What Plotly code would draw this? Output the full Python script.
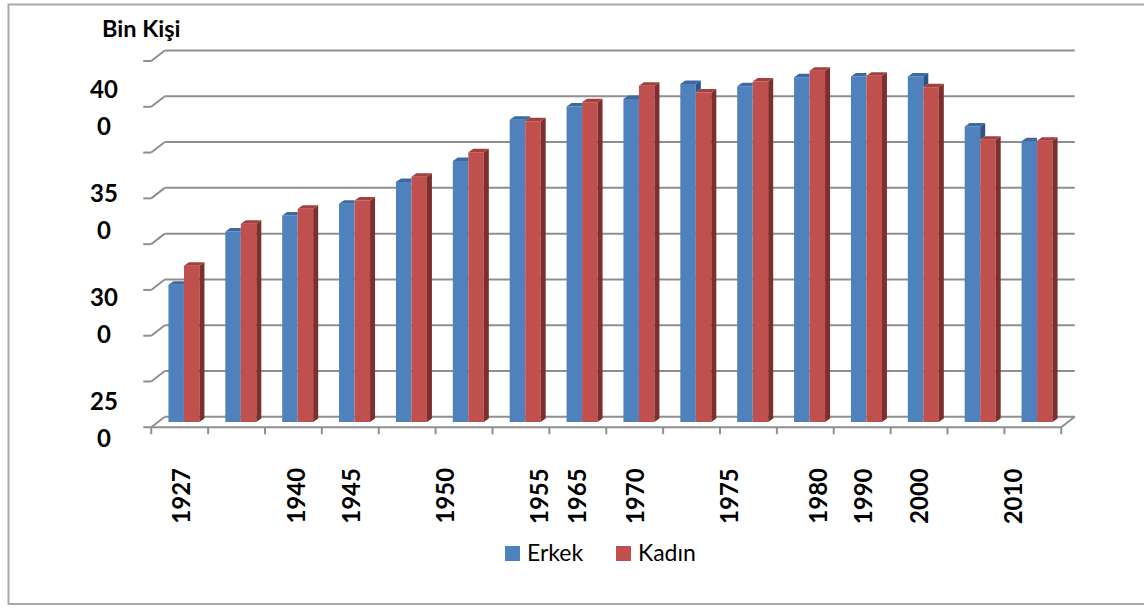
import plotly.graph_objects as go

# column pairs as they stand in the chart (only some of them carry a year label)
SLOTS = list(range(16))
ERKEK = [300.0, 323.2, 330.2, 335.4, 344.9, 354.0, 372.0, 377.8,
         381.1, 387.7, 386.7, 390.6, 390.9, 390.9, 369.1, 362.7]
KADIN = [308.3, 326.6, 333.2, 336.8, 347.2, 357.9, 371.4, 379.7,
         386.9, 384.0, 388.8, 393.5, 391.3, 386.2, 363.3, 362.9]

YEAR_LABELS = ["1927", "1940", "1945", "1950", "1955", "1965",
               "1970", "1975", "1980", "1990", "2000", "2010"]
YEAR_SLOTS = [0.0, 2.02, 2.99, 4.64, 6.3, 6.97, 7.99, 9.64, 11.2, 12.0, 12.98, 14.64]

Y_LABELS = ["400", "350", "300", "250"]
GRID_VALUES = [240, 260, 280, 300, 320, 340, 360, 380, 400]

BLUE, BLUE_TOP, BLUE_SIDE = "#4f81bd", "#3d69a3", "#2e5385"
RED, RED_TOP, RED_SIDE = "#c0504d", "#a53f3c", "#7d2f2d"
GRID = "#8f8f8f"

W, H = 1144, 608
L, R, T, B = 158, 76, 10, 186
PW, PH = W - L - R, H - T - B
X_RANGE = [-0.5, 15.5]
Y_RANGE = [240, 420]
XS = PW / (X_RANGE[1] - X_RANGE[0])
YS = PH / (Y_RANGE[1] - Y_RANGE[0])

# depth of the floor/walls and of a single column, in axis units
DX, DY = 13.5 / XS, 10.5 / YS
BW = 15.5 / XS
BDX, BDY = 5 / XS, 3.5 / YS
OFF_B = -(2 * BW + BDX) / 2
OFF_R = OFF_B + BW


def px_x(u):
    return L + (u - X_RANGE[0]) * XS


def px_y(v):
    return T + (Y_RANGE[1] - v) * YS


def pap_x(px):
    return (px - L) / PW


def pap_y(py):
    return (H - B - py) / PH


def line(x0, y0, x1, y1, color=GRID, width=2):
    return dict(type="line", xref="paper", yref="paper",
                x0=pap_x(x0), y0=pap_y(y0), x1=pap_x(x1), y1=pap_y(y1),
                line=dict(color=color, width=width), layer="below")


fig = go.Figure()
fig.add_trace(go.Bar(x=SLOTS, y=ERKEK, width=BW, offset=OFF_B, name="Erkek",
                     marker=dict(color=BLUE, line=dict(width=0)), showlegend=False))
fig.add_trace(go.Bar(x=SLOTS, y=KADIN, width=BW, offset=OFF_R, name="Kadın",
                     marker=dict(color=RED, line=dict(width=0)), showlegend=False))

faces = {"rs": ([], []), "rt": ([], []), "bt": ([], []), "bs": ([], [])}


def add_poly(key, pts):
    xs, ys = faces[key]
    for px_, py_ in pts:
        xs.append(px_)
        ys.append(py_)
    xs.append(None)
    ys.append(None)


for i, vb, vr in zip(SLOTS, ERKEK, KADIN):
    xl = i + OFF_B
    xm = xl + BW
    xr = xm + BW
    add_poly("rs", [(xr, Y_RANGE[0]), (xr + BDX, Y_RANGE[0] + BDY),
                    (xr + BDX, vr + BDY), (xr, vr)])
    add_poly("rt", [(xm, vr), (xm + BDX, vr + BDY), (xr + BDX, vr + BDY), (xr, vr)])
    if vb >= vr:
        add_poly("bt", [(xl, vb), (xl + BDX, vb + BDY), (xm + BDX, vb + BDY), (xm, vb)])
        add_poly("bs", [(xm, vr), (xm + BDX, vr + BDY), (xm + BDX, vb + BDY), (xm, vb)])
    else:
        add_poly("bt", [(xl, vb), (xl + BDX, vb + BDY), (xm, vb + BDY), (xm, vb)])

for key, color in [("rs", RED_SIDE), ("rt", RED_TOP), ("bs", BLUE_SIDE), ("bt", BLUE_TOP)]:
    xs, ys = faces[key]
    fig.add_trace(go.Scatter(x=xs, y=ys, mode="lines", fill="toself",
                             fillcolor=color, line=dict(width=0, color=color),
                             hoverinfo="skip", showlegend=False))

# walls and floor
shapes = []
fl_x = px_x(X_RANGE[0] - DX / 2)
fr_x = px_x(X_RANGE[1] - DX / 2)
bl_x = px_x(X_RANGE[0] + DX / 2)
br_x = px_x(X_RANGE[1] + DX / 2)
for v in GRID_VALUES:
    fy = px_y(v - DY / 2)
    by = px_y(v + DY / 2)
    shapes.append(line(bl_x, by, br_x, by))
    shapes.append(line(fl_x, fy, bl_x, by))
    shapes.append(line(fl_x - 8, fy, fl_x, fy))
floor_f = px_y(Y_RANGE[0] - DY / 2)
floor_b = px_y(Y_RANGE[0] + DY / 2)
shapes.append(line(fl_x, floor_f, fr_x, floor_f))
shapes.append(line(fr_x, floor_f, br_x, floor_b))
for k in range(len(SLOTS) + 1):
    tx = px_x(X_RANGE[0] + k - DX / 2)
    shapes.append(line(tx, floor_f, tx, floor_f + 7))

# outer frame
shapes.append(dict(type="rect", xref="paper", yref="paper",
                   x0=pap_x(8.5), y0=pap_y(604), x1=pap_x(1152), y1=pap_y(4.5),
                   line=dict(color="#a8a8a8", width=2), layer="below"))

# legend keys
for x0, color in [(505, BLUE), (616, RED)]:
    shapes.append(dict(type="rect", xref="paper", yref="paper",
                       x0=pap_x(x0), x1=pap_x(x0 + 15), y0=pap_y(561), y1=pap_y(546),
                       fillcolor=color, line=dict(width=0)))

bold = dict(family="Lato", size=24, color="black", weight="bold")
annotations = [dict(text="Bin Kişi", xref="paper", yref="paper", x=pap_x(141), y=pap_y(28),
                    xanchor="center", yanchor="middle", showarrow=False,
                    font=dict(family="Lato", size=23.5, color="black", weight="bold"))]
for k, lab in enumerate(Y_LABELS):
    top = 88.3 + 103.9 * k
    for part, py in [(lab[:2], top), (lab[2:], top + 37.5)]:
        annotations.append(dict(text=part, xref="paper", yref="paper",
                                x=pap_x(104), y=pap_y(py), xanchor="center",
                                yanchor="middle", showarrow=False, font=bold))
for lab, pos in zip(YEAR_LABELS, YEAR_SLOTS):
    annotations.append(dict(text=lab, xref="x", yref="paper", x=pos - DX / 2,
                            y=pap_y(466), xanchor="center", yanchor="top",
                            textangle=-90, showarrow=False, font=bold))
for lab, x0 in [("Erkek", 525), ("Kadın", 636)]:
    annotations.append(dict(text=lab, xref="paper", yref="paper", x=pap_x(x0),
                            y=pap_y(552), xanchor="left", yanchor="middle", showarrow=False,
                            font=dict(family="Lato", size=23, color="black")))

fig.update_layout(
    width=W, height=H,
    margin=dict(l=L, r=R, t=T, b=B),
    paper_bgcolor="white", plot_bgcolor="rgba(0,0,0,0)",
    barmode="overlay",
    xaxis=dict(range=X_RANGE, visible=False, fixedrange=True),
    yaxis=dict(range=Y_RANGE, visible=False, fixedrange=True),
    shapes=shapes, annotations=annotations,
    showlegend=False,
)

# the page's default 8px body margin would push the figure off its place
fig.write_html("out.html", config={"displayModeBar": False},
               post_script="document.body.style.margin = '0';")
